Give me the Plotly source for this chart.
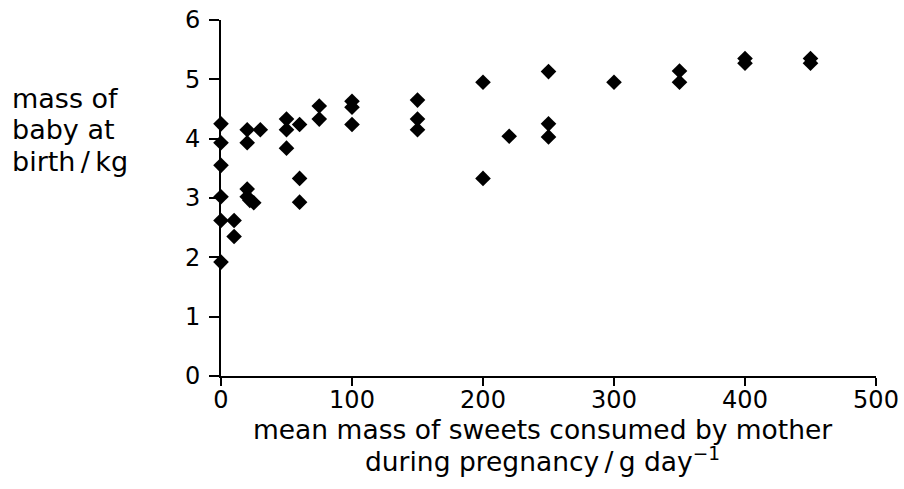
import plotly.graph_objects as go

sweets = [0, 0, 0, 0, 0, 0,
          10, 10,
          20, 20, 20, 20, 22, 25, 30,
          50, 50, 50,
          60, 60, 60,
          75, 75,
          100, 100, 100,
          150, 150, 150,
          200, 200, 220,
          250, 250, 250,
          300,
          350, 350,
          400, 400,
          450, 450]
baby_mass = [4.25, 3.93, 3.55, 3.02, 2.62, 1.92,
             2.62, 2.35,
             4.15, 3.93, 3.15, 3.02, 2.96, 2.92, 4.15,
             4.33, 4.15, 3.84,
             4.24, 3.33, 2.93,
             4.55, 4.33,
             4.63, 4.53, 4.24,
             4.65, 4.33, 4.15,
             4.95, 3.33, 4.04,
             5.13, 4.25, 4.03,
             4.95,
             5.14, 4.95,
             5.35, 5.27,
             5.35, 5.27]

x_ticks = [0, 100, 200, 300, 400, 500]
y_ticks = [0, 1, 2, 3, 4, 5, 6]

y_title_lines = ["mass of", "baby at", "birth\u2009/\u2009kg"]
x_title_lines = ["mean mass of sweets consumed by mother",
                 "during pregnancy\u2009/\u2009g day<sup>\u22121</sup>"]

FONT = "DejaVu Sans, Arial, sans-serif"

W, H = 904, 489
PLOT_L, PLOT_R, PLOT_T, PLOT_B = 221, 876, 20, 376   # plot area in window pixels
L, T, R, B = PLOT_L, PLOT_T, W - PLOT_R, H - PLOT_B
PW, PH = PLOT_R - PLOT_L, PLOT_B - PLOT_T


def px_x(px):
    return (px - PLOT_L) / PW


def px_y(py):
    return (PLOT_B - py) / PH


fig = go.Figure()
fig.add_trace(go.Scatter(
    x=sweets, y=baby_mass, mode="markers",
    marker=dict(symbol="diamond", size=12, color="black"),
    cliponaxis=False, showlegend=False, hoverinfo="x+y",
))

annotations = []
for i, line in enumerate(y_title_lines):
    annotations.append(dict(
        text=line, xref="paper", yref="paper", x=px_x(10), y=px_y(98 + 31.5 * i),
        xanchor="left", yanchor="middle", showarrow=False, font=dict(size=27)))
for i, line in enumerate(x_title_lines):
    annotations.append(dict(
        text=line, xref="paper", yref="paper", x=px_x(542), y=px_y(429 + 31 * i),
        xanchor="center", yanchor="middle", showarrow=False, font=dict(size=26.5)))

fig.update_layout(
    width=W, height=H,
    margin=dict(l=L, r=R, t=T, b=B),
    paper_bgcolor="white", plot_bgcolor="white",
    font=dict(family=FONT, size=24, color="black"),
    xaxis=dict(range=[0, 500], tickvals=x_ticks, showgrid=False, zeroline=False,
               showline=True, linecolor="black", linewidth=2,
               ticks="outside", ticklen=8, tickwidth=2, tickcolor="black",
               tickfont=dict(size=24), ticklabelstandoff=-7,
               ticklabeloverflow="allow", automargin=False),
    yaxis=dict(range=[0, 6], tickvals=y_ticks, showgrid=False, zeroline=False,
               showline=True, linecolor="black", linewidth=2,
               ticks="outside", ticklen=10, tickwidth=2, tickcolor="black",
               tickfont=dict(size=24), ticklabelstandoff=4,
               ticklabeloverflow="allow", automargin=False),
    annotations=annotations,
)

# remove the browser's default 8 px body margin so the figure fills the window
fig.write_html("out.html", config={"displayModeBar": False},
               post_script="document.body.style.margin='0';")
